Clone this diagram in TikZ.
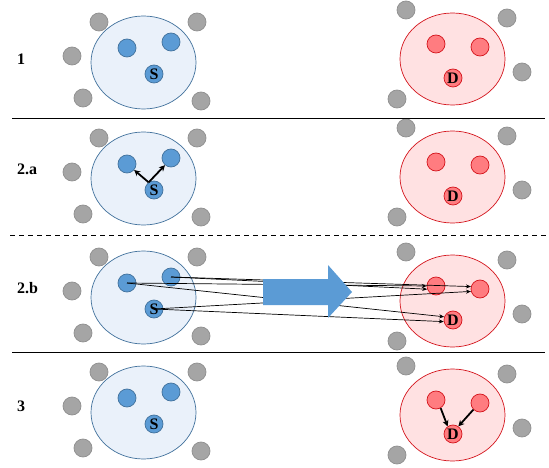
\documentclass[tikz,border=0pt]{standalone}
\usepackage{fontspec}
\setmainfont{Liberation Serif}
\usepackage{xcolor}
\usetikzlibrary{arrows.meta}

\definecolor{areablue}{HTML}{EAF1FA}
\definecolor{lineblue}{HTML}{41719C}
\definecolor{dotblue}{HTML}{5B9BD5}
\definecolor{areared}{HTML}{FFE1E2}
\definecolor{linered}{HTML}{D4141C}
\definecolor{dotred}{HTML}{FF7C80}
\definecolor{othergray}{HTML}{A5A5A5}
\definecolor{othergrayline}{HTML}{8F8F8F}

\begin{document}
\begin{tikzpicture}[x=1pt,y=-1pt,
  dot/.style={circle,draw,minimum size=18pt,inner sep=0pt,line width=0.7pt,
    font=\fontsize{16}{16}\selectfont\bfseries},
  other/.style={dot,fill=othergray,draw=othergrayline},
  bdot/.style={dot,fill=dotblue,draw=lineblue},
  rdot/.style={dot,fill=dotred,draw=linered},
  srcarea/.style={fill=areablue,draw=lineblue,line width=0.7pt},
  dstarea/.style={fill=areared,draw=linered,line width=0.7pt},
  lbl/.style={font=\fontsize{16}{18}\selectfont\bfseries,inner sep=0pt},
  sep/.style={line width=1pt},
  bold arrow/.style={line width=1.8pt,-{Stealth[length=6pt,width=6pt]}},
  thin arrow/.style={line width=0.7pt,-{Stealth[length=5pt,width=4pt]}}]
\useasboundingbox (0,0) rectangle (549,468);

% the four rows: number, shift of source side, shift of destination side, label
\foreach \p/\dl/\dr/\ly/\lab in {1/0/0/59/1, 2/116/118/169/2.a, 3/235/242/288/2.b, 4/350/356/406/3}{
  \node[lbl,anchor=west] (lab\p) at (17,\ly) {\lab};
  % source cluster
  \draw[srcarea] (143.5,62.5+\dl) ellipse [x radius=52.5, y radius=46.5];
  \node[bdot] (a\p) at (127,48+\dl) {};
  \node[bdot] (b\p) at (171,42+\dl) {};
  \node[bdot] (s\p) at (154,74+\dl) {S};
  \foreach \x/\y in {99/22,197/22,72/56,83/98,201/101}
    \node[other] (g\p-\x) at (\x,\y+\dl) {};
  % destination cluster
  \draw[dstarea] (452.5,59+\dr) ellipse [x radius=52.5, y radius=46];
  \node[rdot] (c\p) at (436,44+\dr) {};
  \node[rdot] (d\p) at (480,47+\dr) {};
  \node[rdot] (t\p) at (453,78+\dr) {D};
  \foreach \x/\y in {406/10,507/18,522/72,397/99}
    \node[other] (h\p-\x) at (\x,\y+\dr) {};
}

% separators
\draw[sep] (12,119) -- (545,119);
\draw[sep,dashed,dash pattern=on 5pt off 4pt] (10,235) -- (549,235);
\draw[sep] (12,352) -- (545,352);

% 2.a
\draw[bold arrow] (s2.125) -- (a2.-40);
\draw[bold arrow] (s2.125) -- (b2.230);

% 2.b
\draw[thin arrow] (a3.center) -- (c3.west);
\draw[thin arrow] (b3.center) -- (c3.200);
\draw[thin arrow] (b3.center) -- (d3.165);
\draw[thin arrow] (s3.center) -- (d3.195);
\draw[thin arrow] (a3.center) -- (t3.160);
\draw[thin arrow] (s3.center) -- (t3.190);
\fill[dotblue] (263,279) -- (328,279) -- (328,265) -- (352,292) -- (328,318)
  -- (328,305) -- (263,305) -- cycle;

% 3
\draw[bold arrow] (c4.-60) -- (t4.125);
\draw[bold arrow] (d4.225) -- (t4.55);
\end{tikzpicture}
\end{document}
